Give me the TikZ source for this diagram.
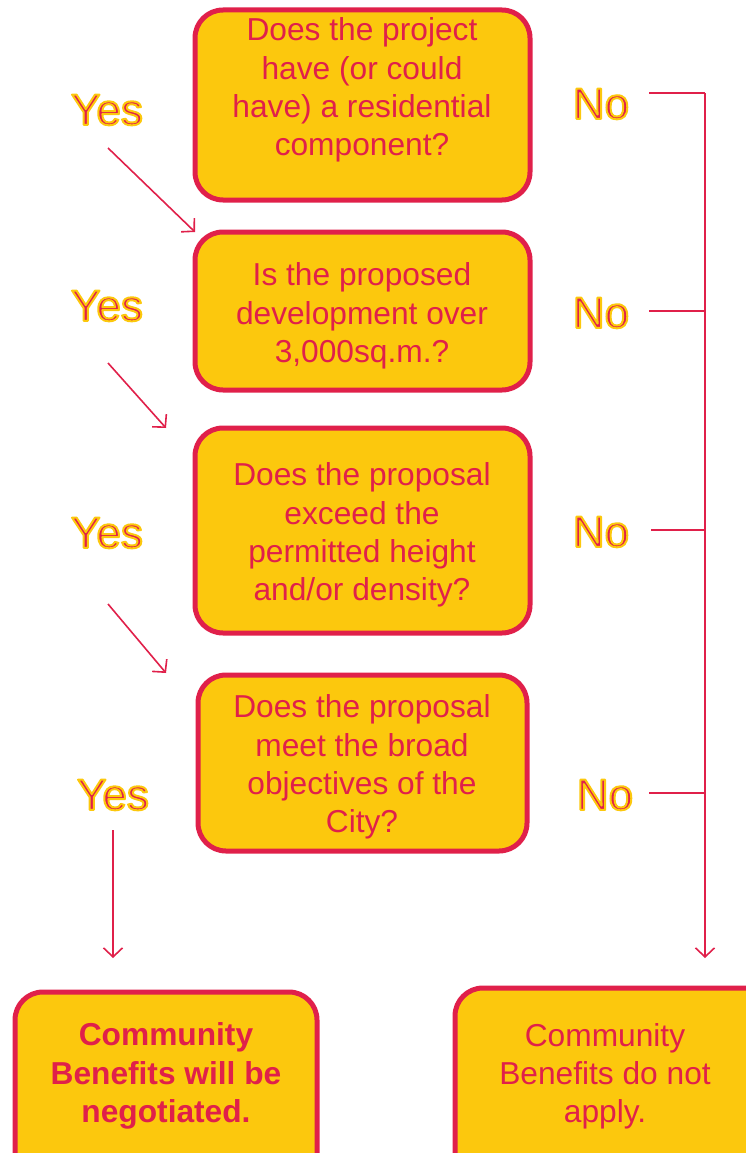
\documentclass[tikz,border=0pt]{standalone}
\usepackage{fontspec}
\setmainfont{Liberation Sans}
\usetikzlibrary{arrows.meta}
\definecolor{crim}{HTML}{E0204A}
\definecolor{gold}{HTML}{FCC80D}
\tikzset{
  qbox/.style={draw=crim, fill=gold, line width=5pt, rounded corners=28pt, inner sep=0pt},
  qtext/.style={text=crim, align=center, font=\fontsize{31.7}{38.2}\selectfont, inner sep=0pt},
  ans/.style={text=crim, font=\fontsize{44}{50}\selectfont, inner sep=0pt},
  link/.style={draw=crim, line width=1.6pt},
  arr/.style={link, -{Straight Barb[length=9pt,width=19pt,line width=1.6pt]}}
}
\newcommand{\outlined}[1]{\special{pdf:literal direct 2 Tr 2.0 w 1 j 1 J 0.988 0.784 0.051 RG}#1\special{pdf:literal direct 0 Tr 0 j 0 J}}
\begin{document}
\begin{tikzpicture}[x=1pt,y=-1pt]
\useasboundingbox (0,0) rectangle (746,1153);
\begin{scope}
\clip (0,0) rectangle (746,1153);
% boxes
\node[qbox, minimum width=335pt, minimum height=190pt] (b1) at (362.5,105) {};
\node[qbox, minimum width=335pt, minimum height=158pt] (b2) at (362.5,311) {};
\node[qbox, minimum width=335pt, minimum height=205pt] (b3) at (362.5,530.5) {};
\node[qbox, minimum width=329pt, minimum height=176pt] (b4) at (362.5,763) {};
\node[qbox, minimum width=302pt, minimum height=190pt] (b5) at (166,1087) {};
\node[qbox, minimum width=320pt, minimum height=200pt] (b6) at (615,1088) {};
\end{scope}
% box texts
\node[qtext] (t1) at (362,90) {Does the project\\have (or could\\have) a residential\\component?};
\node[qtext] (t2) at (362,316) {Is the proposed\\development over\\3,000sq.m.?};
\node[qtext] (t3) at (362,535) {Does the proposal\\exceed the\\permitted height\\and/or density?};
\node[qtext] (t4) at (362,767) {Does the proposal\\meet the broad\\objectives of the\\City?};
\node[qtext, font=\fontsize{31.7}{38.2}\selectfont\bfseries] (t5) at (166,1076) {Community\\Benefits will be\\negotiated.};
\node[qtext] (t6) at (605,1076) {Community\\Benefits do not\\apply.};
% yes connectors
\coordinate (ys1) at (108,148);
\coordinate (ye1) at (195,232);
\coordinate (ys2) at (108,363);
\coordinate (ye2) at (166,428);
\coordinate (ys3) at (108,604);
\coordinate (ye3) at (166,673);
\coordinate (ys4) at (113,830);
\coordinate (ye4) at (113,958);
\draw[arr] (ys1) -- (ye1);
\draw[arr] (ys2) -- (ye2);
\draw[arr] (ys3) -- (ye3);
\draw[arr] (ys4) -- (ye4);
% no connectors
\coordinate (ns1) at (649,93);
\coordinate (ns2) at (649,311);
\coordinate (ns3) at (651,530);
\coordinate (ns4) at (649,793);
\coordinate (nc) at (705,93);
\coordinate (nend) at (705,958);
\draw[link] (ns1) -- (nc);
\draw[arr] (nc) -- (nend);
\draw[link] (ns2) -- (ns2 -| nc);
\draw[link] (ns3) -- (ns3 -| nc);
\draw[link] (ns4) -- (ns4 -| nc);
% answers
\node[ans] (y1) at (107,110) {\outlined{Yes}};
\node[ans] (y2) at (107,306) {\outlined{Yes}};
\node[ans] (y3) at (107,533) {\outlined{Yes}};
\node[ans] (y4) at (113,795) {\outlined{Yes}};
\node[ans] (n1) at (601,104) {\outlined{No}};
\node[ans] (n2) at (601,313) {\outlined{No}};
\node[ans] (n3) at (601,532) {\outlined{No}};
\node[ans] (n4) at (605,795) {\outlined{No}};
\end{tikzpicture}
\end{document}
